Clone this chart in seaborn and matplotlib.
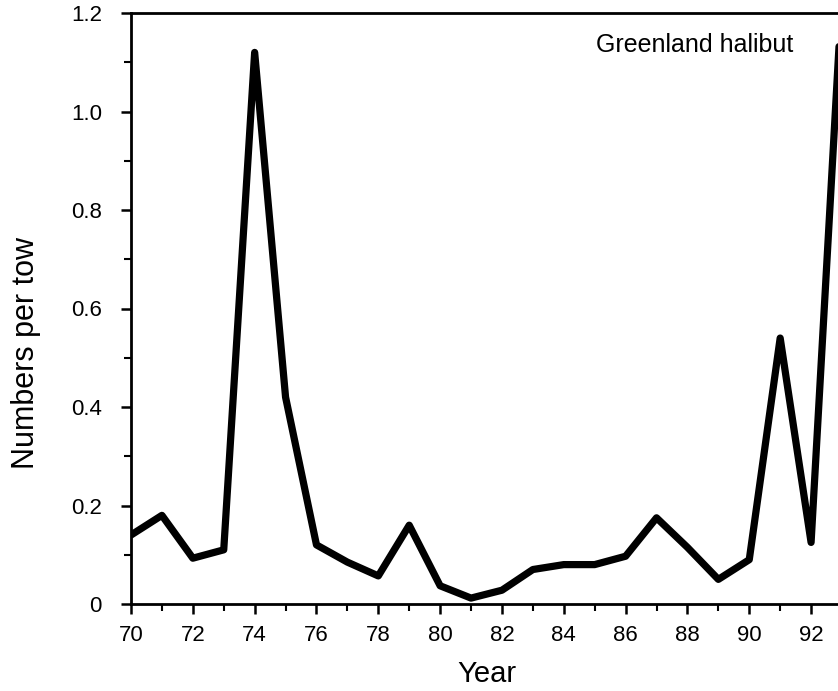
import matplotlib
matplotlib.use("Agg")
import matplotlib.pyplot as plt
import seaborn as sns
import pandas as pd
from matplotlib.ticker import MultipleLocator, FuncFormatter

years = [70, 71, 72, 73, 74, 75, 76, 77, 78, 79, 80, 81, 82, 83, 84, 85, 86, 87, 88, 89, 90, 91, 92, 93]
numbers_per_tow = [0.14, 0.18, 0.093, 0.11, 1.12, 0.42, 0.12, 0.085, 0.057, 0.16, 0.037, 0.012,
                   0.028, 0.07, 0.08, 0.08, 0.097, 0.175, 0.115, 0.05, 0.09, 0.54, 0.125, 1.24]
x_ticks = [70, 72, 74, 76, 78, 80, 82, 84, 86, 88, 90, 92]
y_ticks = [0, 0.2, 0.4, 0.6, 0.8, 1.0, 1.2]

sns.set_theme(style="ticks")
plt.rcParams['font.family'] = ['Liberation Sans', 'DejaVu Sans']

df = pd.DataFrame({"Year": years, "Numbers per tow": numbers_per_tow})

W, H = 838, 691
fig = plt.figure(figsize=(W / 100, H / 100), dpi=100)
left, right, bottom, top = 131, 842, 604, 13
ax = fig.add_axes([left / W, (H - bottom) / H, (right - left) / W, (bottom - top) / H])

sns.lineplot(data=df, x="Year", y="Numbers per tow", color="black", linewidth=5.2, ax=ax,
             solid_joinstyle="round", solid_capstyle="round")

ax.set_xlim(70, 93)
ax.set_ylim(0, 1.2)
ax.set_xticks(x_ticks)
ax.set_yticks(y_ticks)
ax.xaxis.set_minor_locator(MultipleLocator(1))
ax.yaxis.set_minor_locator(MultipleLocator(0.1))
ax.yaxis.set_major_formatter(FuncFormatter(lambda v, p: "0" if abs(v) < 1e-9 else f"{v:.1f}"))

for s in ["left", "bottom", "top", "right"]:
    ax.spines[s].set_linewidth(2.0)
    ax.spines[s].set_color("black")

ax.tick_params(axis="both", which="major", direction="out", length=7, width=1.8,
               colors="black", labelsize=16)
ax.tick_params(axis="both", which="minor", direction="out", length=5, width=1.5, colors="black")
ax.tick_params(axis="y", which="major", pad=14)
ax.tick_params(axis="x", which="major", pad=8)

ax.set_xlabel("Year", fontsize=21, color="black", labelpad=10)
ax.set_ylabel("Numbers per tow", fontsize=22, color="black")
ax.yaxis.set_label_coords(-0.126, 0.425)

ax.text(91.42, 1.135, "Greenland halibut", ha="right", va="center", fontsize=18, color="black")

fig.savefig("out.png", dpi=100, facecolor="white")
